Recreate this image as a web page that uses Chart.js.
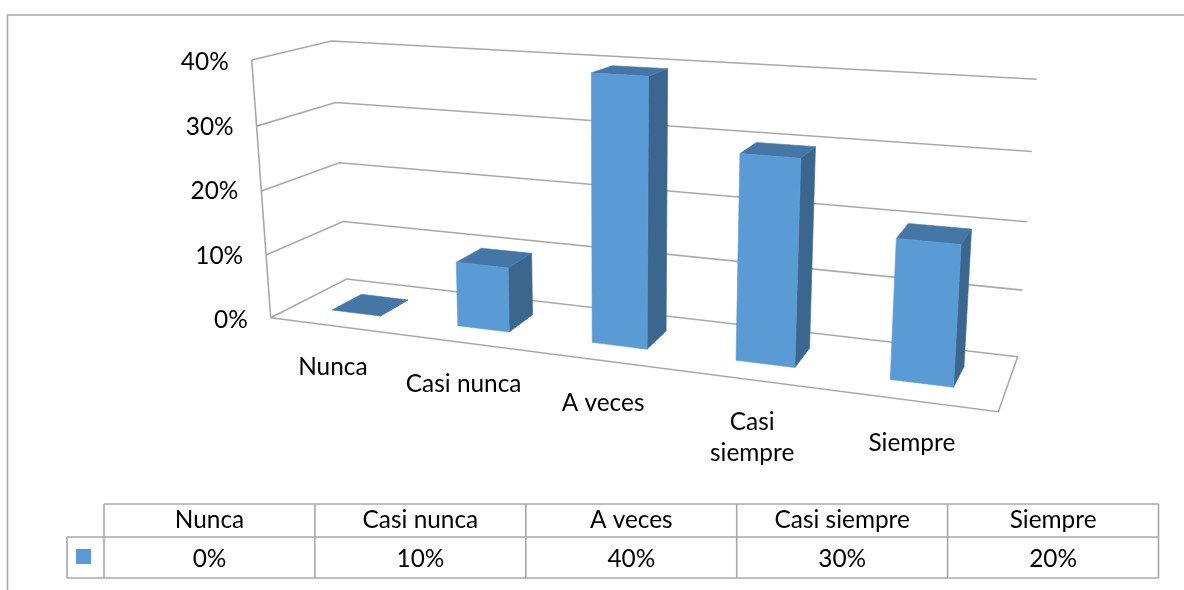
<!DOCTYPE html>
<html lang="es">
<head>
<meta charset="utf-8">
<title>Frecuencia</title>
<script src="https://cdn.jsdelivr.net/npm/chart.js@4"></script>
<style>html,body{margin:0;padding:0;background:#fff}canvas{display:block}</style>
</head>
<body>
<canvas id="c" width="1184" height="590"></canvas>
<script>
const categories = ['Nunca', 'Casi nunca', 'A veces', 'Casi siempre', 'Siempre'];
const axisLabelLines = [['Nunca'], ['Casi nunca'], ['A veces'], ['Casi', 'siempre'], ['Siempre']];
const values = [0, 10, 40, 30, 20];

const FONT = '24.4px Lato';
const LINE = '#A8A8A8';
const FRONT = '#5B9BD5', TOP = '#4477A6', SIDE = '#3B678F';

// Perspective camera: [bottom-left, bottom-right, top-right, top-left] of each plane on screen
const BAR_SHARE = 0.39;
const BAR_T0 = 0.5 - BAR_SHARE / 2, BAR_T1 = 4.5 + BAR_SHARE / 2;
const frontPlane = [[332, 310], [953.5, 387.3], [969, 95], [321, 57]];
const backPlane = [[361.5, 294.3], [964, 366.7], [979.4, 85], [351, 52]];
const backWall = [[346.7, 279], [1017.7, 356.7], [1036.7, 79.3], [331.7, 41]];
const leftWall = [[270.7, 317.7], [346.7, 279], [331.7, 41], [251.7, 60]];
const floorFrontRight = [998.3, 411.7];

function solve(A, b) {
  const n = b.length, M = A.map((r, i) => [...r, b[i]]);
  for (let i = 0; i < n; i++) {
    let p = i;
    for (let r = i + 1; r < n; r++) if (Math.abs(M[r][i]) > Math.abs(M[p][i])) p = r;
    [M[i], M[p]] = [M[p], M[i]];
    for (let r = 0; r < n; r++) {
      if (r === i) continue;
      const f = M[r][i] / M[i][i];
      for (let c = i; c <= n; c++) M[r][c] -= f * M[i][c];
    }
  }
  return M.map((r, i) => r[n] / r[i]);
}
function homography(x0, x1, yBottom, yTop, dst) {
  const src = [[x0, yBottom], [x1, yBottom], [x1, yTop], [x0, yTop]];
  const A = [], b = [];
  src.forEach(([x, y], i) => {
    const [u, v] = dst[i];
    A.push([x, y, 1, 0, 0, 0, -u * x, -u * y]); b.push(u);
    A.push([0, 0, 0, x, y, 1, -v * x, -v * y]); b.push(v);
  });
  const h = solve(A, b);
  return (x, y) => {
    const w = h[6] * x + h[7] * y + 1;
    return [(h[0] * x + h[1] * y + h[2]) / w, (h[3] * x + h[4] * y + h[5]) / w];
  };
}
function poly(ctx, pts, fill) {
  ctx.beginPath();
  pts.forEach((p, i) => i ? ctx.lineTo(p[0], p[1]) : ctx.moveTo(p[0], p[1]));
  ctx.closePath();
  ctx.fillStyle = fill; ctx.strokeStyle = fill; ctx.lineWidth = 0.6;
  ctx.fill(); ctx.stroke();
}
function line(ctx, pts) {
  ctx.beginPath();
  pts.forEach((p, i) => i ? ctx.lineTo(p[0], p[1]) : ctx.moveTo(p[0], p[1]));
  ctx.stroke();
}

const scene3d = {
  id: 'scene3d',
  beforeDatasetsDraw(chart) {
    const ctx = chart.ctx, xs = chart.scales.x, ys = chart.scales.y, a = chart.chartArea;
    const band = (a.right - a.left) / categories.length;
    const y0 = ys.getPixelForValue(0), yMax = ys.getPixelForValue(ys.max);
    const bx0 = a.left + band * BAR_T0, bx1 = a.left + band * BAR_T1;
    const F = homography(bx0, bx1, y0, yMax, frontPlane);
    const B = homography(bx0, bx1, y0, yMax, backPlane);
    const W = homography(a.left, a.right, y0, yMax, backWall);
    const L = homography(a.left, a.right, y0, yMax, leftWall);

    ctx.save();
    // outer frame
    ctx.strokeStyle = LINE; ctx.lineWidth = 1.6;
    line(ctx, [[7.5, 590], [7.5, 15], [1184, 15]]);

    // walls, grid and floor
    ys.ticks.forEach(t => {
      const py = ys.getPixelForValue(t.value);
      line(ctx, [L(a.left, py), W(a.left, py), W(a.right, py)]);
    });
    line(ctx, [L(a.left, y0), L(a.left, yMax)]);
    line(ctx, [L(a.left, y0), floorFrontRight, W(a.right, y0)]);

    // y tick labels follow the slanted left edge
    ctx.font = FONT; ctx.fillStyle = '#000';
    ctx.textAlign = 'right'; ctx.textBaseline = 'middle';
    ys.ticks.forEach(t => {
      const py = ys.getPixelForValue(t.value);
      const p = L(a.left, py);
      ctx.fillText(t.label, p[0] - 23, py + 1.5);
    });

    // bars
    const meta = chart.getDatasetMeta(0);
    meta.data.forEach((el, i) => {
      const { x, y, base, width } = el.getProps(['x', 'y', 'base', 'width'], true);
      const l = x - width / 2, r = x + width / 2;
      const fBL = F(l, base), fBR = F(r, base), fTR = F(r, y), fTL = F(l, y);
      const bBR = B(r, base), bTR = B(r, y), bTL = B(l, y);
      poly(ctx, [fBR, bBR, bTR, fTR], SIDE);
      poly(ctx, [fTL, fTR, bTR, bTL], TOP);
      if (values[i] > 0) poly(ctx, [fBL, fBR, fTR, fTL], chart.data.datasets[0].backgroundColor);

      // category label under the bar
      const c = F(x, base);
      const lines = axisLabelLines[i];
      ctx.fillStyle = '#000'; ctx.textAlign = 'center'; ctx.textBaseline = 'middle';
      lines.forEach((s, k) => ctx.fillText(s, c[0] - 23 + 3.3 * i, c[1] + 54 + 1.5 * i + k * 31));
    });

    // data table
    const colX = i => 104 + i * 210.9;
    ctx.strokeStyle = LINE; ctx.lineWidth = 1.6;
    line(ctx, [[104, 504], [1158.5, 504]]);
    line(ctx, [[67, 537], [1158.5, 537]]);
    line(ctx, [[67, 578], [1158.5, 578]]);
    line(ctx, [[67, 537], [67, 578]]);
    for (let i = 0; i <= categories.length; i++) line(ctx, [[colX(i), 504], [colX(i), 578]]);
    ctx.fillStyle = chart.data.datasets[0].backgroundColor;
    ctx.fillRect(76, 549, 15, 15);
    ctx.fillStyle = '#000'; ctx.textAlign = 'center'; ctx.textBaseline = 'middle';
    categories.forEach((c, i) => {
      const cx = colX(i) + 105.5;
      ctx.fillText(xs.getLabelForValue(i), cx, 520.5);
      ctx.fillText(values[i] + '%', cx, 559.5);
    });
    ctx.restore();
    return false;
  }
};

new Chart(document.getElementById('c'), {
  type: 'bar',
  data: {
    labels: categories,
    datasets: [{ label: 'Serie', data: values, backgroundColor: FRONT, barPercentage: BAR_SHARE, categoryPercentage: 1 }]
  },
  options: {
    responsive: false,
    animation: false,
    layout: { padding: { left: 262, right: 174, top: 61, bottom: 271 } },
    plugins: { legend: { display: false }, tooltip: { enabled: false }, title: { display: false } },
    scales: {
      x: { display: false },
      y: { display: false, min: 0, max: 40, ticks: { stepSize: 10, callback: v => v + '%' } }
    }
  },
  plugins: [scene3d]
});
</script>
</body>
</html>
